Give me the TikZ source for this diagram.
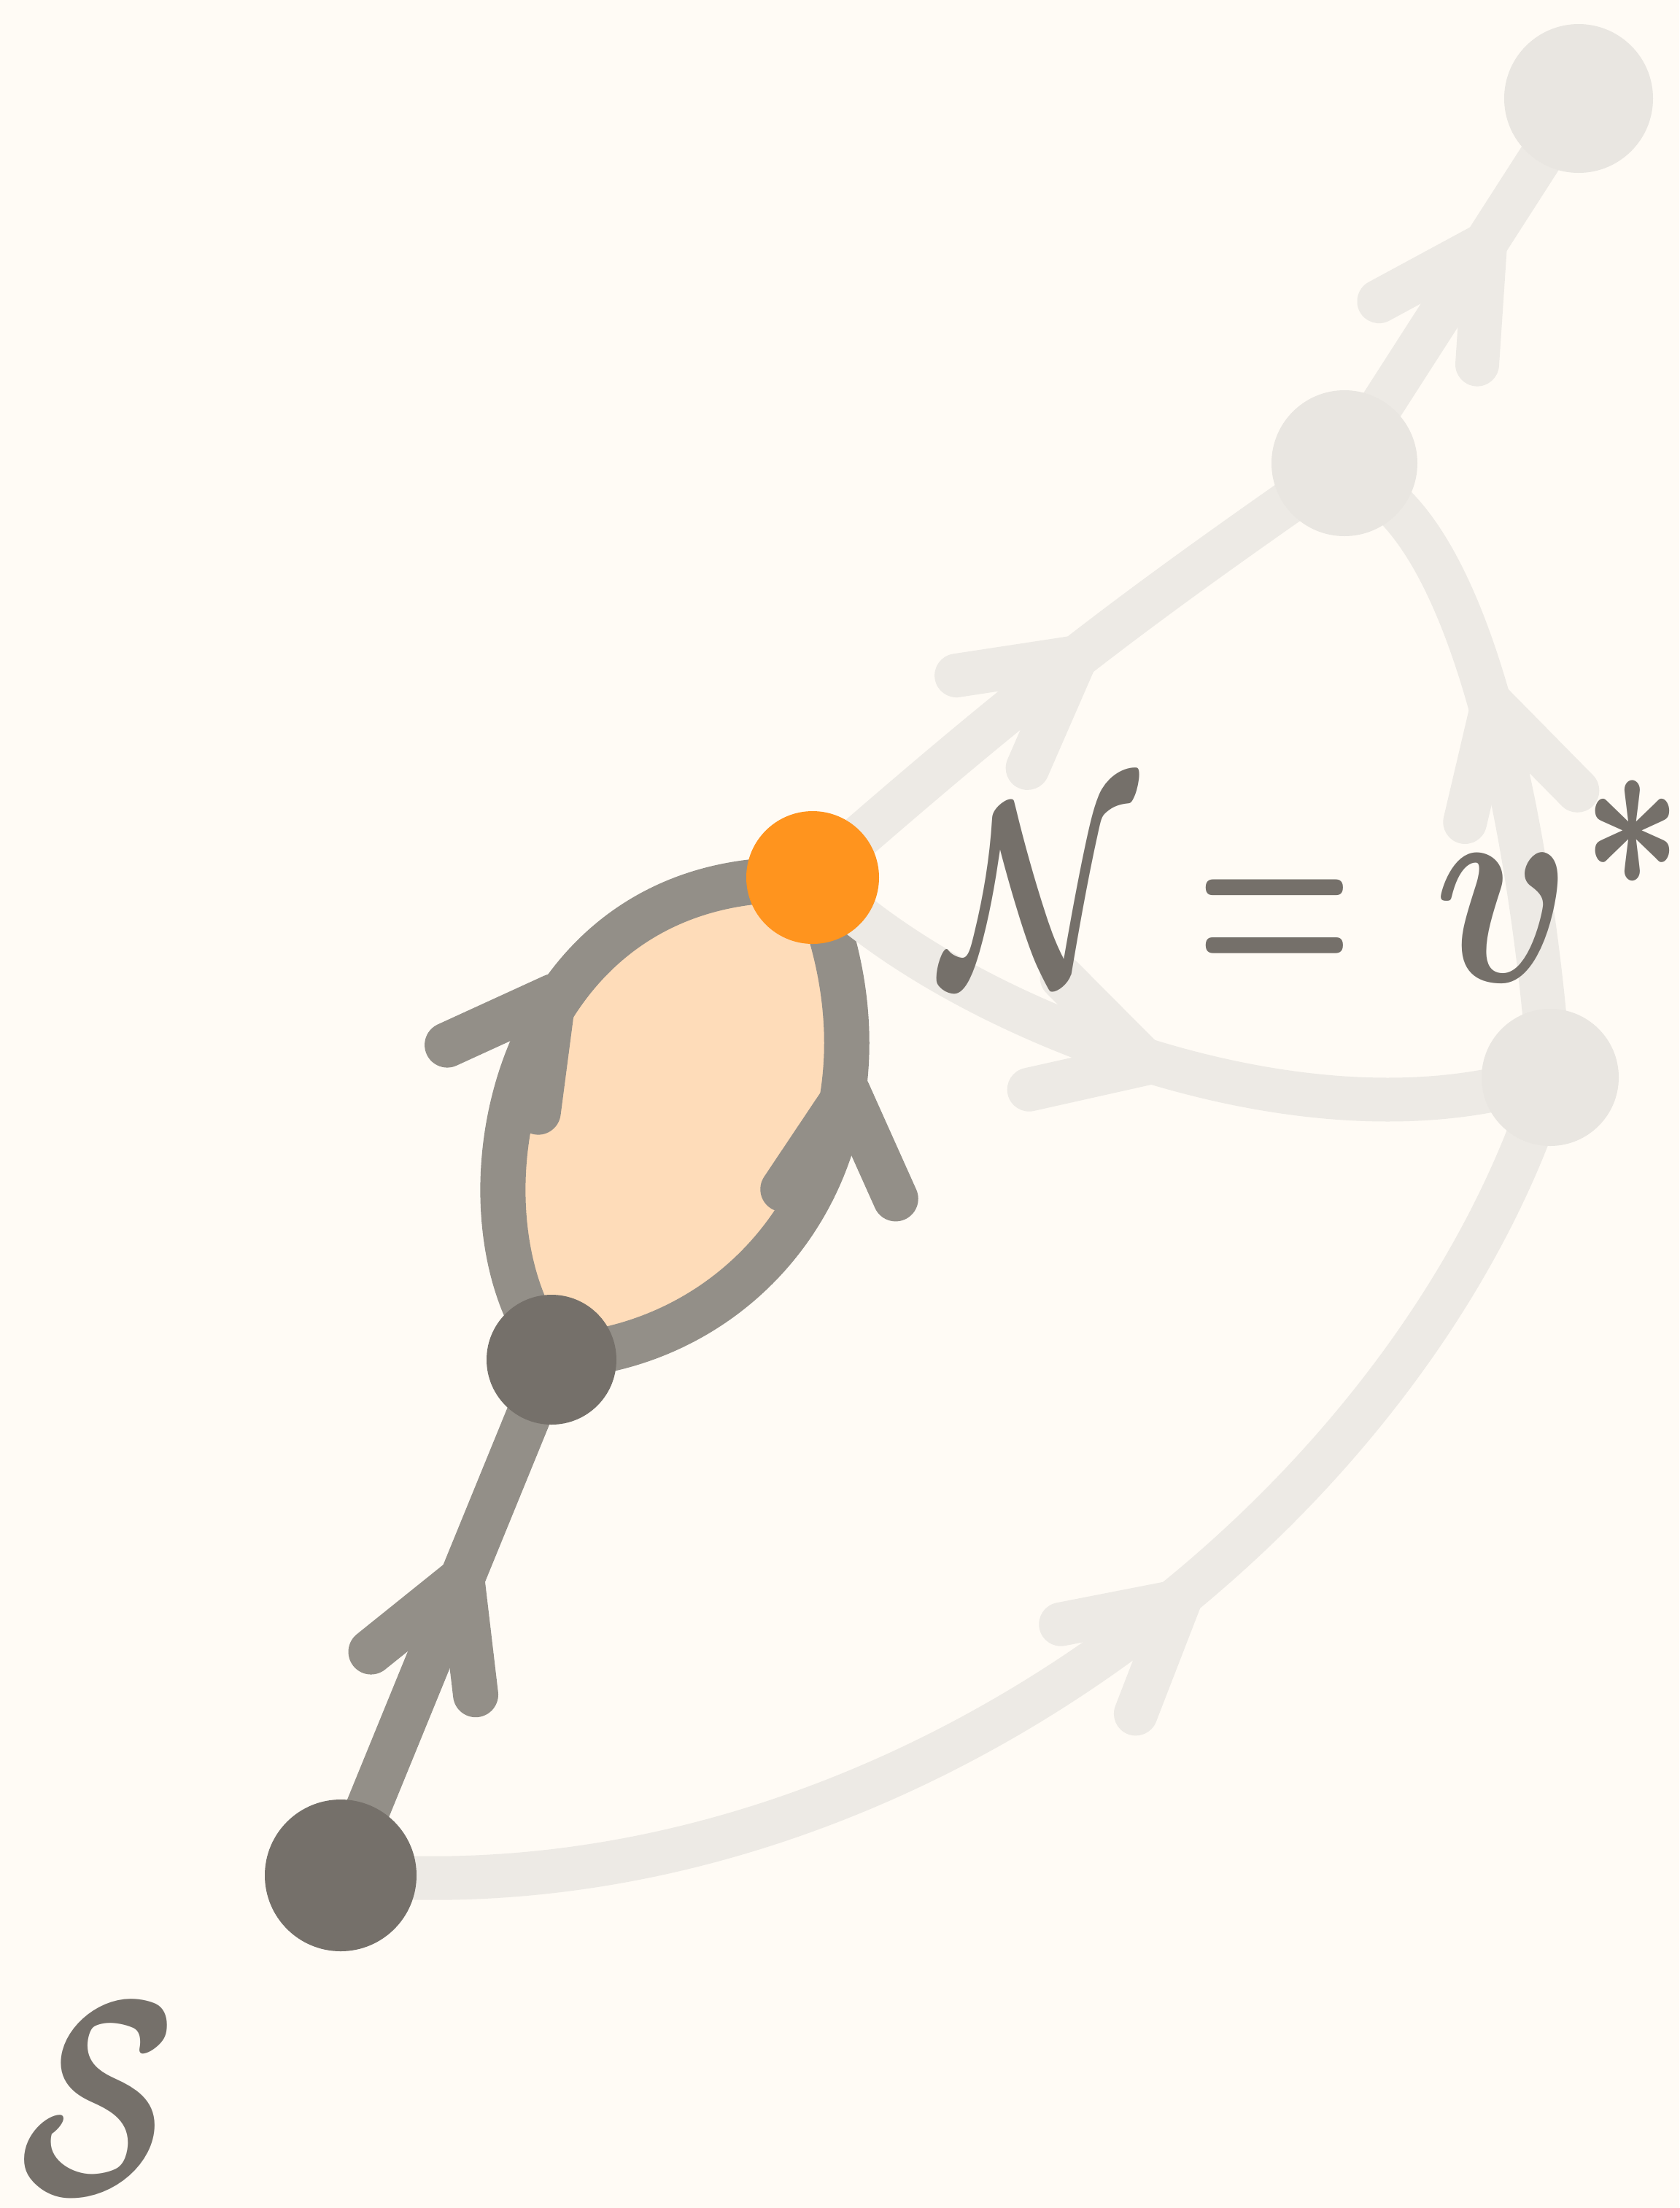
\documentclass[tikz,border=0pt]{standalone}
\usepackage{graphicx}
\usepackage{amsmath}
\usetikzlibrary{arrows.meta, decorations.markings}
\definecolor{paper}{RGB}{255,251,245}
\definecolor{inkgray}{RGB}{117,112,106}
\definecolor{pathgray}{RGB}{147,143,136}
\definecolor{fadeline}{RGB}{237,234,229}
\definecolor{fadenode}{RGB}{233,230,225}
\definecolor{hotorange}{RGB}{255,148,30}
\definecolor{peach}{RGB}{254,220,185}
\pgfdeclarelayer{paperlayer}
\pgfdeclarelayer{edgelayer}
\pgfsetlayers{paperlayer,edgelayer,main}

\begin{document}
\begin{tikzpicture}[
    dot/.style={circle, inner sep=0pt, minimum size=#1},
    darkdot/.style={dot=#1, fill=inkgray},
    fadedot/.style={dot=#1, fill=fadenode},
    hotdot/.style={dot=#1, fill=hotorange},
    darkedge/.style={line width=0.62cm, pathgray, shorten <=-3mm, shorten >=-3mm},
    fadeedge/.style={line width=0.6cm, fadeline, shorten <=-3mm, shorten >=-3mm},
    darktip/.style={postaction={decorate, color=inkgray, line width=0.48cm,
        decoration={markings, mark=at position #1 with
        {\arrow{Straight Barb[length=1.4cm, width=1.55cm, round]}}}}},
    fadetip/.style={postaction={decorate, color=fadenode, line width=0.48cm,
        decoration={markings, mark=at position #1 with
        {\arrow{Straight Barb[length=1.45cm, width=1.6cm, round]}}}}},
    eqlabel/.style={text=inkgray, inner sep=0pt, font=\boldmath}
]

% paper
\begin{pgfonlayer}{paperlayer}
\fill[paper] (0,0) rectangle (23.02,-30.27);
\end{pgfonlayer}
\useasboundingbox (0,0) rectangle (23.02,-30.27);

% vertices
\node[darkdot=2.08cm] (src) at (4.67,-25.71) {};
\node[darkdot=1.78cm] (fork) at (7.56,-18.64) {};
\node[hotdot=1.82cm] (cur) at (11.14,-12.03) {};
\node[fadedot=1.88cm] (goal) at (21.25,-14.77) {};
\node[fadedot=2.0cm] (hop) at (18.43,-6.35) {};
\node[fadedot=2.04cm] (far) at (21.64,-1.35) {};

% edges
\begin{pgfonlayer}{edgelayer}
\fill[peach] (fork.center) .. controls (6.3,-16.2) and (7.1,-12.3) .. (cur.center)
    .. controls (12.3,-15.6) and (10.6,-18.1) .. (fork.center) -- cycle;
\draw[darkedge, darktip=0.63] (src) -- (fork);
\draw[darkedge, darktip=0.61] (fork) .. controls (6.3,-16.2) and (7.1,-12.3) .. (cur);
\draw[darkedge, darktip=0.74] (fork) .. controls (10.6,-18.1) and (12.3,-15.6) .. (cur);
\draw[fadeedge, fadetip=0.55] (cur) to[bend left=3] (hop);
\draw[fadeedge, fadetip=0.72] (hop) -- (far);
\draw[fadeedge, fadetip=0.51] (cur) .. controls (13.5,-14.0) and (17.5,-15.6) .. (goal);
\draw[fadeedge, fadetip=0.62] (goal) .. controls (21.0,-12.0) and (20.4,-8.0) .. (hop);
\draw[fadeedge, fadetip=0.6] (src) .. controls (12.5,-26.0) and (19.0,-20.8) .. (goal);
\end{pgfonlayer}

% labels
\node[eqlabel, anchor=base west] (eq) at (12.9,-13.45)
    {\scalebox{7.0}[10.1]{$\mathcal{N} = \hspace{1.2pt}\scalebox{1.28}[1.1]{$v$}^{\hspace{0.5pt}\scalebox{1.25}[1.25]{$\scriptstyle *$}}$}};
\node[eqlabel] (setS) at (1.34,-28.77) {\scalebox{8.0}[10.8]{$\mathcal{S}$}};

\end{tikzpicture}
\end{document}
